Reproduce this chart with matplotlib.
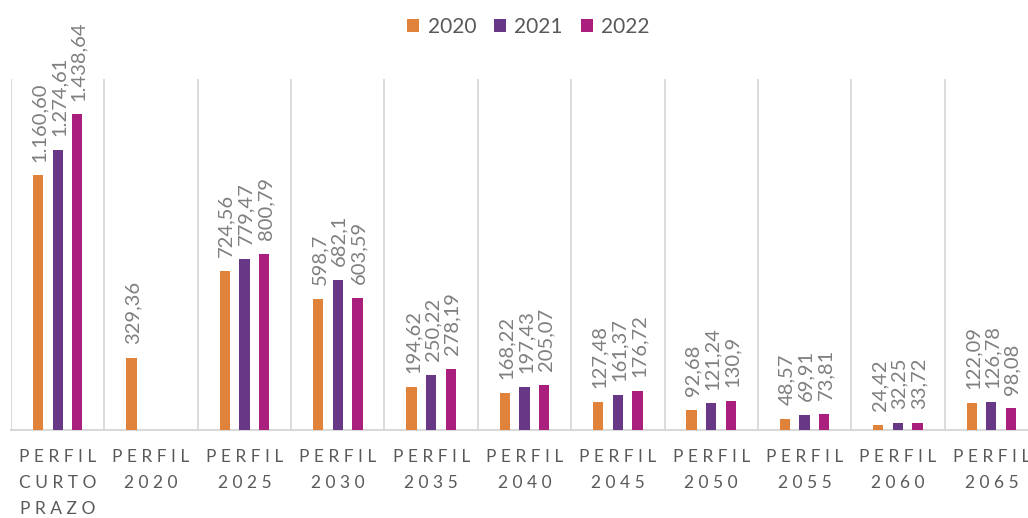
"""Perfis: barras agrupadas 2020/2021/2022 com rótulos de dados verticais"""

import matplotlib
matplotlib.use("Agg")
import matplotlib.pyplot as plt
import matplotlib.transforms as mtransforms
import numpy as np

# Dados
categorias = ["PERFIL\nCURTO\nPRAZO", "PERFIL\n2020", "PERFIL\n2025", "PERFIL\n2030",
              "PERFIL\n2035", "PERFIL\n2040", "PERFIL\n2045", "PERFIL\n2050",
              "PERFIL\n2055", "PERFIL\n2060", "PERFIL\n2065"]
anos = ["2020", "2021", "2022"]
valores_2020 = [1160.60, 329.36, 724.56, 598.7, 194.62, 168.22, 127.48, 92.68, 48.57, 24.42, 122.09]
valores_2021 = [1274.61, None, 779.47, 682.1, 250.22, 197.43, 161.37, 121.24, 69.91, 32.25, 126.78]
valores_2022 = [1438.64, None, 800.79, 603.59, 278.19, 205.07, 176.72, 130.9, 73.81, 33.72, 98.08]
rotulos_2020 = ["1.160,60", "329,36", "724,56", "598,7", "194,62", "168,22", "127,48", "92,68", "48,57", "24,42", "122,09"]
rotulos_2021 = ["1.274,61", "", "779,47", "682,1", "250,22", "197,43", "161,37", "121,24", "69,91", "32,25", "126,78"]
rotulos_2022 = ["1.438,64", "", "800,79", "603,59", "278,19", "205,07", "176,72", "130,9", "73,81", "33,72", "98,08"]

CORES = ["#E0823A", "#683786", "#AA1E7E"]
COR_GRADE = "#D9D9D9"
COR_TEXTO = "#595959"
COR_ROTULO = "#7F7F7F"

plt.rcParams['font.family'] = ['Lato', 'DejaVu Sans']

fig = plt.figure(figsize=(10.28, 5.18), dpi=100)
ax = fig.add_axes([11 / 1028, 88 / 518, 1027 / 1028, 351 / 518])

x = np.arange(len(categorias))
deslocamentos = [-0.21, 0.0, 0.21]
largura = 0.11

series = [valores_2020, valores_2021, valores_2022]
rotulos = [rotulos_2020, rotulos_2021, rotulos_2022]

for serie, rots, desl, cor, ano in zip(series, rotulos, deslocamentos, CORES, anos):
    alturas = [v if v is not None else 0 for v in serie]
    ax.bar(x + desl, alturas, width=largura, color=cor, label=ano, zorder=3)
    for xi, v, r in zip(x, serie, rots):
        if v is None:
            continue
        ax.annotate(r, (xi + desl, v), xytext=(1, 10), textcoords="offset points",
                    rotation=90, ha="center", va="bottom", fontsize=14.5,
                    color=COR_ROTULO)

# Grade vertical entre categorias
for b in np.arange(-0.5, len(categorias), 1.0):
    ax.axvline(b, color=COR_GRADE, lw=1.3, zorder=1)

ax.set_xlim(-0.5, len(categorias) - 0.5)
ax.set_ylim(0, 1600)
ax.set_yticks([])
ax.set_xticks([])
for lado in ["top", "right", "left"]:
    ax.spines[lado].set_visible(False)
ax.spines["bottom"].set_color(COR_GRADE)
ax.spines["bottom"].set_linewidth(1.5)

# Rótulos das categorias com espaçamento entre letras
trans = mtransforms.blended_transform_factory(ax.transData, ax.transAxes)
for xi, cat in zip(x, categorias):
    texto = "\n".join(" ".join(linha) for linha in cat.split("\n"))
    ax.text(xi, -0.055, texto, transform=trans, ha="center", va="top",
            fontsize=12.5, color=COR_TEXTO, linespacing=1.75, clip_on=False)

leg = fig.legend(loc="upper center", bbox_to_anchor=(0.514, 1.003), ncol=3,
                 frameon=False, fontsize=15, handlelength=0.58, handleheight=0.58,
                 handletextpad=0.4, columnspacing=0.85)
for t in leg.get_texts():
    t.set_color(COR_TEXTO)

fig.savefig("out.png", dpi=100)
